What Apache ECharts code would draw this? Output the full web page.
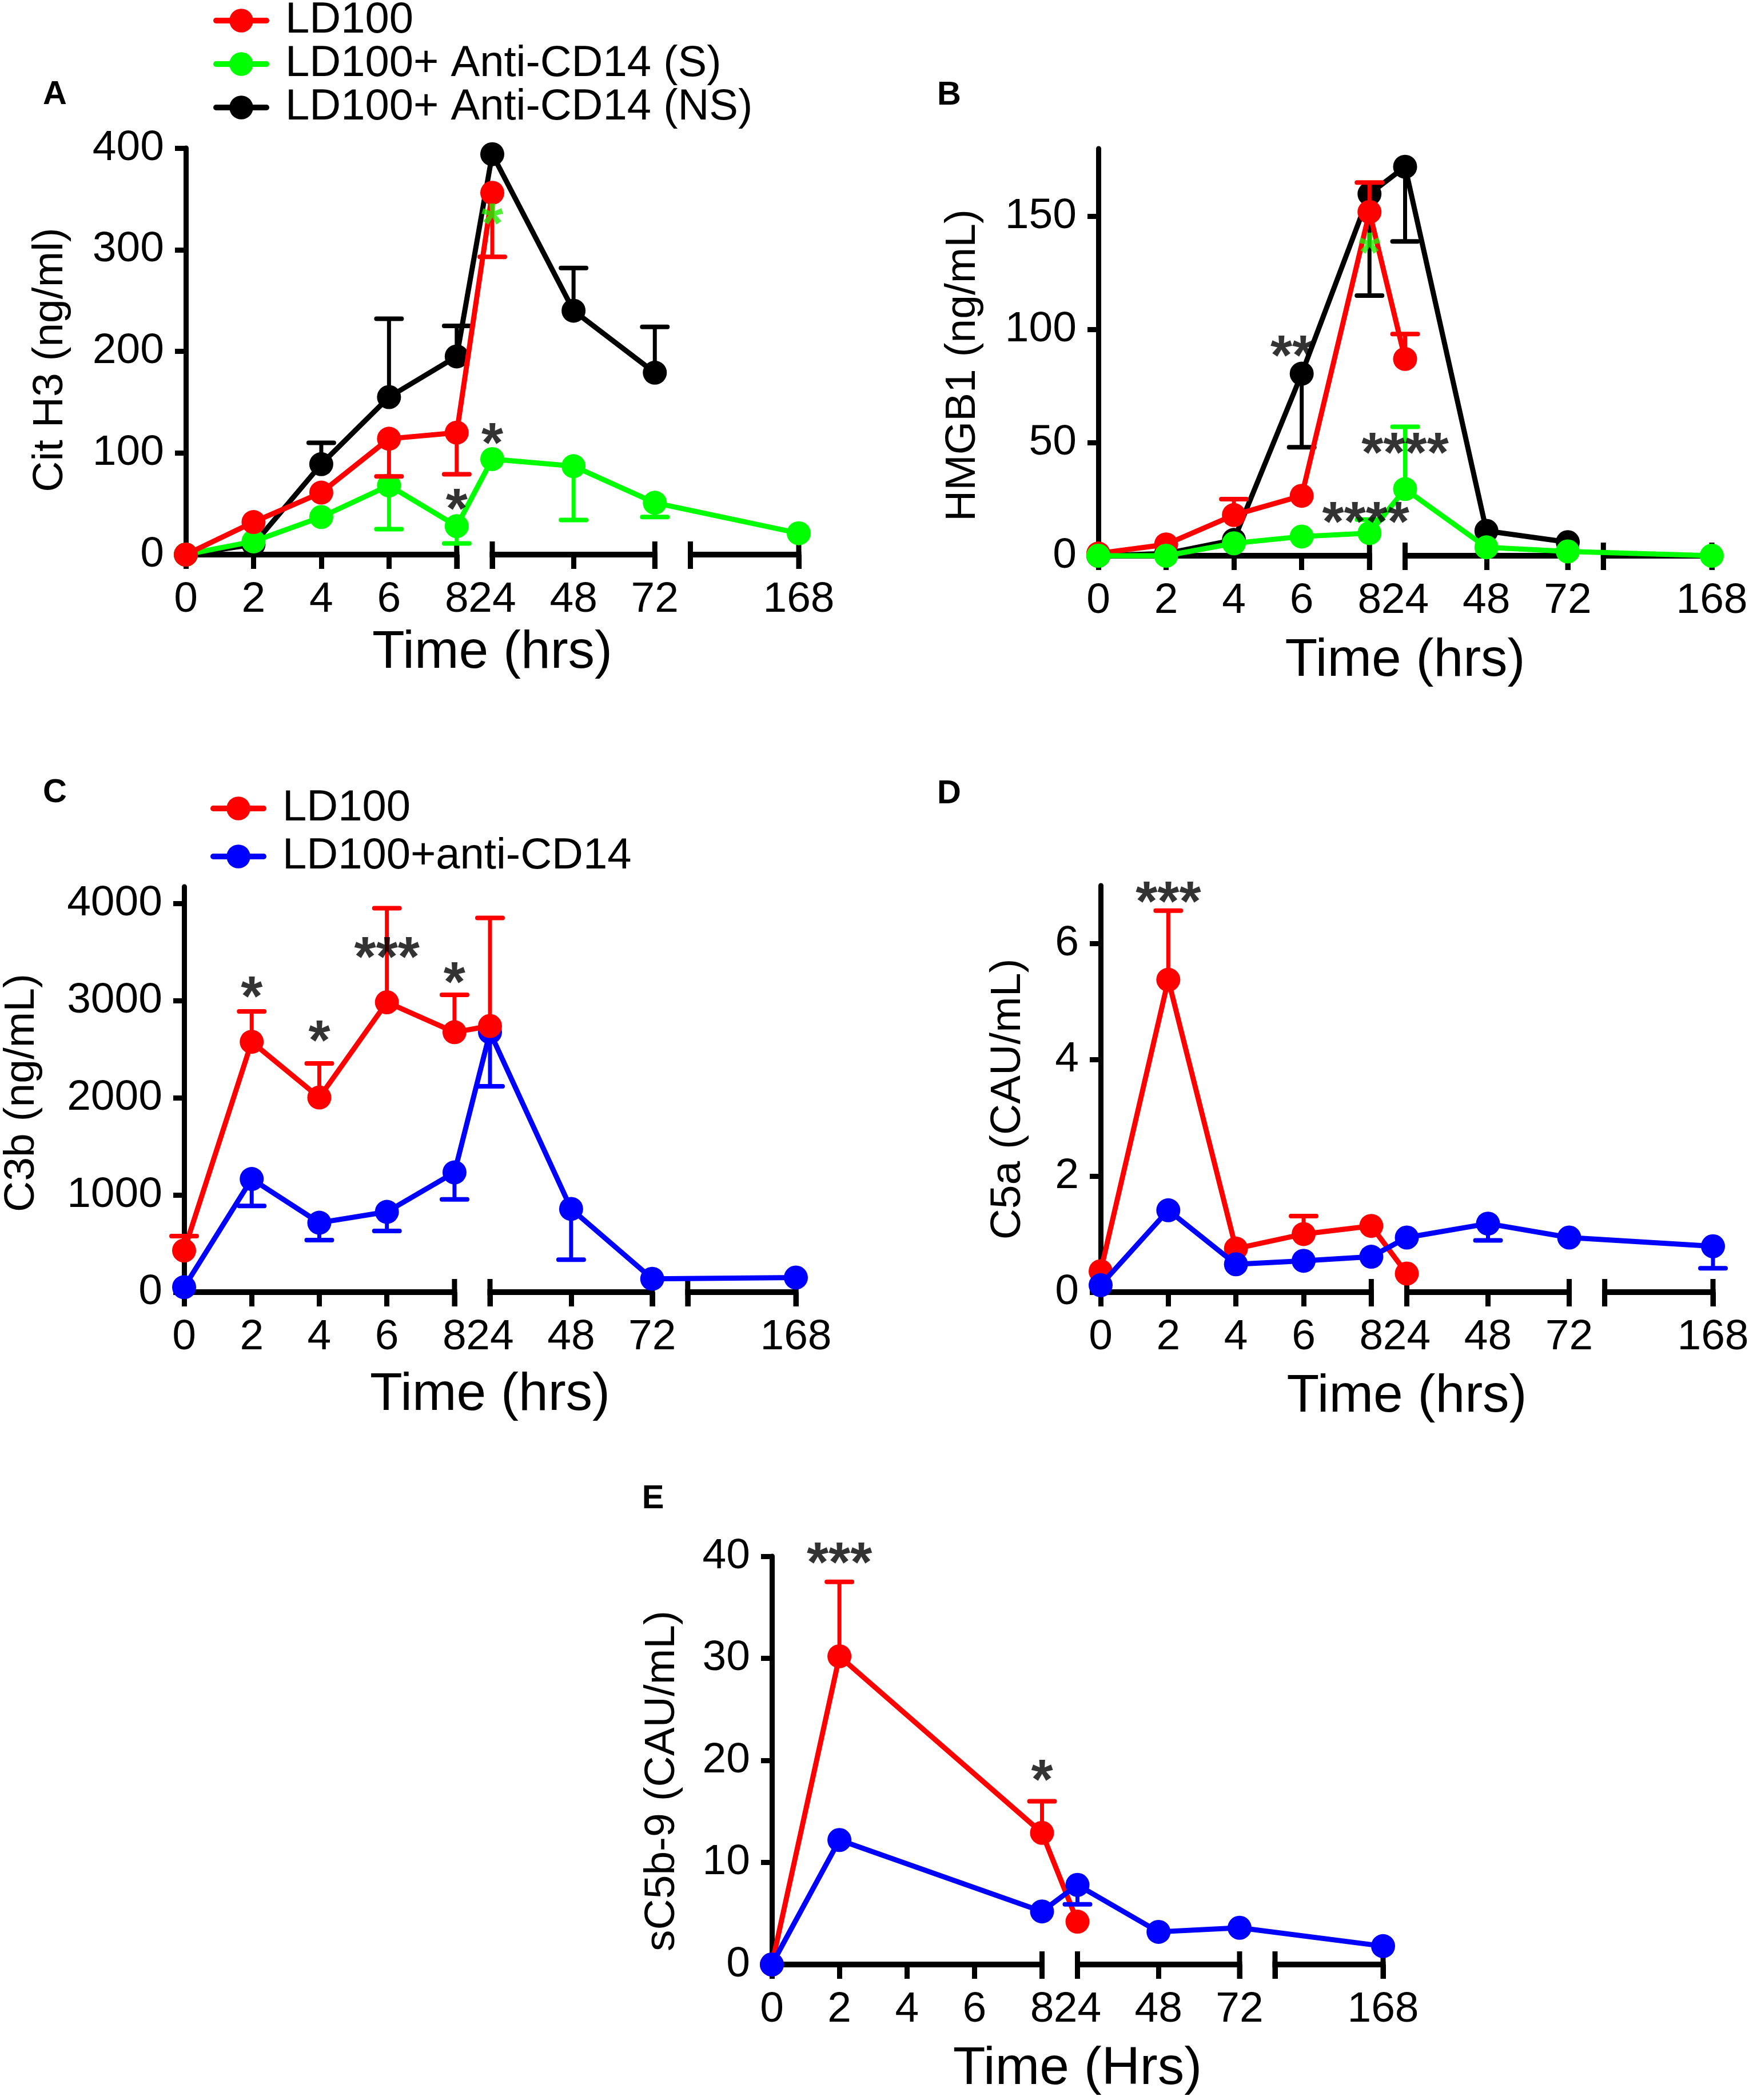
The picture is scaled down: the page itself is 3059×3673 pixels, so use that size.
<!DOCTYPE html>
<html>
<head>
<meta charset="utf-8">
<script src="https://cdn.jsdelivr.net/npm/echarts@6/dist/echarts.min.js"></script>
<style>
html,body{margin:0;padding:0;background:#fff;}
#chart{width:3059px;height:3673px;}
</style>
</head>
<body>
<div id="chart"></div>
<script>
// ---------- shared axis definition (broken time axis) ----------
const TIMES = [0, 2, 4, 6, 8, 24, 48, 72, 168];
const TIME_LABELS = ['0', '2', '4', '6', '8', '24', '48', '72', '168'];
const AXIS_POS = [0, 2, 4, 6, 8, 9.05, 11.45, 13.85, 18.1];
const AXIS_SEGMENTS = [[0, 8], [9.05, 13.85], [14.9, 18.1]];
const X_TICKS = [0, 2, 4, 6, 8, 9.05, 11.45, 13.85, 14.9, 18.1];

// ---------- Panel A : Cit H3 ----------
const A_Y_TICKS = [0, 100, 200, 300, 400];
const A_LD100      = [0, 32, 61, 114, 120, 356, null, null, null];
const A_LD100_ERR  = [null, null, null, 77, 79, 293, null, null, null];
const A_S          = [0, 13, 37, 68, 28, 94, 87, 51, 21];
const A_S_ERR      = [null, null, null, 25, 11, null, 34, 37, null];
const A_NS         = [0, 10, 89, 155, 195, 394, 240, 179, null];
const A_NS_ERR     = [null, null, 110, 232, 225, null, 282, 224, null];
const A_NOTES = [[8, 55, '*', 'black'], [9.05, 120, '*', 'black'], [9.05, 336, '*', 'green']];

// ---------- Panel B : HMGB1 ----------
const B_Y_TICKS = [0, 50, 100, 150];
const B_LD100      = [1, 5, 18, 26.5, 152, 87, null, null, null];
const B_LD100_ERR  = [null, null, 25, null, 165, 98, null, null, null];
const B_NS         = [0, 1, 7, 80.5, 160, 172, 11, 6, null];
const B_NS_ERR     = [null, null, null, 48, 115, 139, null, null, null];
const B_S          = [0, 0, 5.5, 8.5, 10, 29.5, 3.7, 1.9, 0];
const B_S_ERR      = [null, null, null, null, 16, 57, null, null, null];
const B_NOTES = [[5.72, 93, '**', 'black'], [9.05, 50, '****', 'black'], [7.89, 19.5, '****', 'black'], [8, 138.5, '*', 'green']];

// ---------- Panel C : C3b ----------
const C_Y_TICKS = [0, 1000, 2000, 3000, 4000];
const C_LD100      = [428, 2575, 2002, 2982, 2674, 2738, null, null, null];
const C_LD100_ERR  = [577, 2888, 2353, 3949, 3059, 3850, null, null, null];
const C_ANTI       = [51, 1164, 714, 826, 1232, 2674, 856, 137, 150];
const C_ANTI_ERR   = [null, 886, 535, 629, 954, 2118, 334, null, null];
const C_NOTES = [[2, 3144, '*', 'black'], [4, 2695, '*', 'black'], [6, 3550, '***', 'black'], [8, 3294, '*', 'black']];

// ---------- Panel D : C5a ----------
const D_Y_TICKS = [0, 2, 4, 6];
const D_LD100      = [0.36, 5.38, 0.75, 1.0, 1.14, 0.32, null, null, null];
const D_LD100_ERR  = [null, 6.57, null, 1.31, null, null, null, null, null];
const D_ANTI       = [0.12, 1.41, 0.48, 0.54, 0.61, 0.94, 1.18, 0.94, 0.79];
const D_ANTI_ERR   = [null, null, null, null, null, null, 0.89, null, 0.41];
const D_NOTES = [[2, 6.9, '***', 'black']];

// ---------- Panel E : sC5b-9 ----------
const E_Y_TICKS = [0, 10, 20, 30, 40];
const E_LD100      = [0, 30.2, null, null, 12.9, 4.2, null, null, null];
const E_LD100_ERR  = [null, 37.5, null, null, 16.0, null, null, null, null];
const E_ANTI       = [0, 12.2, null, null, 5.2, 7.8, 3.2, 3.6, 1.8];
const E_ANTI_ERR   = [null, null, null, null, null, 5.9, null, null, null];
const E_NOTES = [[2, 40.4, '***', 'black'], [8, 19.1, '*', 'black']];

// ---------- styling ----------
const FONT = "'Liberation Sans', Arial, Helvetica, sans-serif";
const COLORS = {red: '#ff0000', green: '#00ff00', black: '#000000', blue: '#0000ff'};
const TICK_FONT = 75, NAME_FONT = 93, YNAME_FONT = 75, NOTE_FONT = 98, LEGEND_FONT = 76;

const panels = [
  {letter: 'A', lx: 96, ly: 166, left: 325, top: 259, width: 1072, height: 711, yMax: 400, yTicks: A_Y_TICKS,
   yName: 'Cit H3 (ng/ml)', yNameGap: 199, yNameShift: 30, xName: 'Time (hrs)', xNameGap: 126, notes: A_NOTES,
   series: [
     {name: 'LD100+ Anti-CD14 (NS)', color: 'black', vals: A_NS, err: A_NS_ERR, z: 3},
     {name: 'LD100+ Anti-CD14 (S)', color: 'green', vals: A_S, err: A_S_ERR, z: 4},
     {name: 'LD100', color: 'red', vals: A_LD100, err: A_LD100_ERR, z: 5}]},
  {letter: 'B', lx: 1660, ly: 167, left: 1921, top: 260, width: 1073, height: 712, yMax: 180, yTicks: B_Y_TICKS,
   yName: 'HMGB1 (ng/mL)', yNameGap: 199, yNameShift: 46, xName: 'Time (hrs)', xNameGap: 138, notes: B_NOTES,
   series: [
     {name: 'LD100+ Anti-CD14 (NS)', color: 'black', vals: B_NS, err: B_NS_ERR, z: 3},
     {name: 'LD100', color: 'red', vals: B_LD100, err: B_LD100_ERR, z: 4},
     {name: 'LD100+ Anti-CD14 (S)', color: 'green', vals: B_S, err: B_S_ERR, z: 5}]},
  {letter: 'C', lx: 96, ly: 1387, left: 322, top: 1551, width: 1070, height: 709, yMax: 4170, yTicks: C_Y_TICKS,
   yName: 'C3b (ng/mL)', yNameGap: 246, yNameShift: 12, xName: 'Time (hrs)', xNameGap: 134, notes: C_NOTES,
   series: [
     {name: 'LD100+anti-CD14', color: 'blue', vals: C_ANTI, err: C_ANTI_ERR, z: 3},
     {name: 'LD100', color: 'red', vals: C_LD100, err: C_LD100_ERR, z: 4}]},
  {letter: 'D', lx: 1660, ly: 1389, left: 1925, top: 1549, width: 1071, height: 711, yMax: 7, yTicks: D_Y_TICKS,
   yName: 'C5a (CAU/mL)', yNameGap: 124, yNameShift: 36, xName: 'Time (hrs)', xNameGap: 137, notes: D_NOTES,
   series: [
     {name: 'LD100', color: 'red', vals: D_LD100, err: D_LD100_ERR, z: 3},
     {name: 'LD100+anti-CD14', color: 'blue', vals: D_ANTI, err: D_ANTI_ERR, z: 4}]},
  {letter: 'E', lx: 1142, ly: 2622, left: 1350, top: 2722, width: 1069, height: 714, yMax: 40, yTicks: E_Y_TICKS,
   yName: 'sC5b-9 (CAU/mL)', yNameGap: 154, yNameShift: 72, xName: 'Time (Hrs)', xNameGap: 137, notes: E_NOTES,
   series: [
     {name: 'LD100', color: 'red', vals: E_LD100, err: E_LD100_ERR, z: 3},
     {name: 'LD100+anti-CD14', color: 'blue', vals: E_ANTI, err: E_ANTI_ERR, z: 4}]}
];

function posLabel(v) {
  for (let i = 0; i < AXIS_POS.length; i++) if (Math.abs(AXIS_POS[i] - v) < 1e-6) return TIME_LABELS[i];
  return '';
}

const grid = [], xAxis = [], yAxis = [], series = [], graphic = [];

panels.forEach((p, i) => {
  grid.push({left: p.left, top: p.top, width: p.width, height: p.height, containLabel: false, outerBoundsMode: 'none'});
  xAxis.push({
    type: 'value', gridIndex: i, min: 0, max: 18.1,
    axisLine: {show: false},
    splitLine: {show: false},
    axisTick: {show: true, customValues: X_TICKS, length: 25, lineStyle: {color: '#000', width: 9}},
    axisLabel: {show: true, customValues: AXIS_POS, formatter: posLabel, fontSize: TICK_FONT, fontFamily: FONT,
                color: '#000', margin: 42, hideOverlap: false},
    name: p.xName, nameLocation: 'middle', nameGap: p.xNameGap, nameMoveOverlap: false,
    nameTextStyle: {fontSize: NAME_FONT, fontFamily: FONT, color: '#000'}
  });
  yAxis.push({
    type: 'value', gridIndex: i, min: 0, max: p.yMax,
    axisLine: {show: true, lineStyle: {color: '#000', width: 9}},
    splitLine: {show: false},
    axisTick: {show: true, customValues: p.yTicks, length: 19, lineStyle: {color: '#000', width: 9}},
    axisLabel: {show: true, customValues: p.yTicks, formatter: v => String(v), fontSize: TICK_FONT,
                fontFamily: FONT, color: '#000', margin: 38},
    name: p.yName, nameLocation: 'middle', nameGap: p.yNameGap, nameMoveOverlap: false,
    nameTextStyle: {fontSize: YNAME_FONT, fontFamily: FONT, color: '#000', padding: [0, p.yNameShift, 0, 0]}
  });

  // broken x axis line segments
  series.push({
    type: 'custom', xAxisIndex: i, yAxisIndex: i, silent: true, clip: false, z: 1,
    data: AXIS_SEGMENTS,
    encode: {x: [0, 1]},
    renderItem: function (params, api) {
      const a = api.value(0), b = api.value(1);
      const p1 = api.coord([a, 0]), p2 = api.coord([b, 0]);
      const ch = [{type: 'line', shape: {x1: p1[0] - 4.5, y1: p1[1], x2: p2[0] + 4.5, y2: p2[1]},
                   style: {stroke: '#000', lineWidth: 10}}];
      if (a > 0) ch.push({type: 'line', shape: {x1: p1[0], y1: p1[1] - 23, x2: p1[0], y2: p1[1] + 25}, style: {stroke: '#000', lineWidth: 9}});
      ch.push({type: 'line', shape: {x1: p2[0], y1: p2[1] - 23, x2: p2[0], y2: p2[1] + 25}, style: {stroke: '#000', lineWidth: 9}});
      return {type: 'group', children: ch};
    }
  });

  p.series.forEach(s => {
    const col = COLORS[s.color];
    const pts = [], errs = [];
    TIMES.forEach((t, k) => {
      if (s.vals[k] != null) pts.push([AXIS_POS[k], s.vals[k]]);
      if (s.err[k] != null) errs.push([AXIS_POS[k], s.vals[k], s.err[k]]);
    });
    series.push({
      type: 'custom', xAxisIndex: i, yAxisIndex: i, silent: true, clip: false, z: s.z,
      data: errs, encode: {x: 0, y: [1, 2]},
      renderItem: function (params, api) {
        const x = api.value(0), m = api.value(1), e = api.value(2);
        const p1 = api.coord([x, m]), p2 = api.coord([x, e]);
        return {type: 'group', children: [
          {type: 'line', shape: {x1: p1[0], y1: p1[1], x2: p2[0], y2: p2[1]}, style: {stroke: col, lineWidth: 7, lineCap: 'round'}},
          {type: 'line', shape: {x1: p2[0] - 22, y1: p2[1], x2: p2[0] + 22, y2: p2[1]}, style: {stroke: col, lineWidth: 8, lineCap: 'round'}}
        ]};
      }
    });
    series.push({
      type: 'line', name: s.name, xAxisIndex: i, yAxisIndex: i, data: pts, z: s.z,
      symbol: 'circle', symbolSize: 42, clip: false, animation: false,
      lineStyle: {color: col, width: 9},
      itemStyle: {color: col, borderWidth: 0}
    });
  });

  // significance annotations
  series.push({
    type: 'scatter', xAxisIndex: i, yAxisIndex: i, symbolSize: 0, clip: false, silent: true, z: 10,
    data: p.notes.map(n => ({value: [n[0], n[1]],
      label: {formatter: n[2], color: n[3] === 'green' ? '#22ee00' : '#000'}})),
    label: {show: true, position: 'inside', fontSize: NOTE_FONT, fontWeight: 'bold', fontFamily: FONT,
            offset: [0, 24], textBorderWidth: 0, letterSpacing: 6}
  });

  graphic.push({type: 'text', x: p.lx, y: p.ly,
    style: {text: p.letter, fontSize: 58, fontWeight: 'bold', fontFamily: FONT, fill: '#000',
            align: 'center', verticalAlign: 'middle'}});
});

const legendCommon = {
  orient: 'vertical', itemWidth: 88, itemHeight: 52, selectedMode: false,
  lineStyle: {width: 10, cap: 'round'},
  textStyle: {fontSize: LEGEND_FONT, fontFamily: FONT, color: '#000', padding: [0, 0, 0, 28]}
};

const option = {
  backgroundColor: '#fff',
  animation: false,
  grid, xAxis, yAxis, series,
  graphic: {elements: graphic},
  legend: [
    Object.assign({}, legendCommon, {left: 368, top: -7, itemGap: 0,
      data: ['LD100', 'LD100+ Anti-CD14 (S)', 'LD100+ Anti-CD14 (NS)']}),
    Object.assign({}, legendCommon, {left: 363, top: 1371, itemGap: 8,
      data: ['LD100', 'LD100+anti-CD14']})
  ]
};

const chart = echarts.init(document.getElementById('chart'), null, {renderer: 'canvas'});
chart.setOption(option);
</script>
</body>
</html>
